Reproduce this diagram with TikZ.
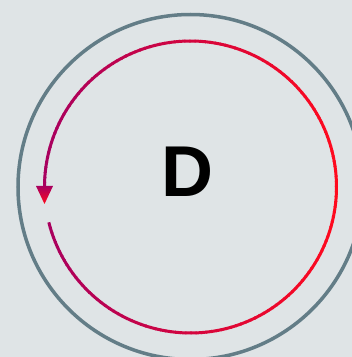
\documentclass[tikz,border=0pt]{standalone}
\usepackage{fontspec}
\setmainfont{Liberation Sans}
\usetikzlibrary{calc}
\definecolor{bgcol}{HTML}{DFE4E6}
\definecolor{ringcol}{HTML}{637D87}
\definecolor{arcred}{HTML}{FF0A1E}
\definecolor{arcpurple}{HTML}{A8005F}
\tikzset{
  ring/.style={draw=ringcol, line width=3.5pt},
  arcseg/.style={line width=3pt, line cap=butt},
  label/.style={font=\bfseries\fontsize{72}{72}\selectfont, text=black, inner sep=0pt}
}
\begin{document}
\begin{tikzpicture}[x=1pt,y=1pt]
  \fill[bgcol] (0,0) rectangle (352,357);
  \useasboundingbox (0,0) rectangle (352,357);
  \coordinate (c) at (190.5,170);
  \draw[ring] (c) circle[radius=172.5];
  \foreach \a in {194,196,...,538}{
    \pgfmathsetmacro{\p}{50+50*cos(\a+1)}
    \draw[arcseg, draw={arcred!\p!arcpurple}] ($(c)+(\a:146)$) arc[start angle=\a, end angle=\a+2.4, radius=146];
  }
  \shade[top color=arcpurple, bottom color=arcred] (36,171) -- (53,171) -- (44.5,153) -- cycle;
  \node[label] (d) at (187.5,185) {D};
\end{tikzpicture}
\end{document}
